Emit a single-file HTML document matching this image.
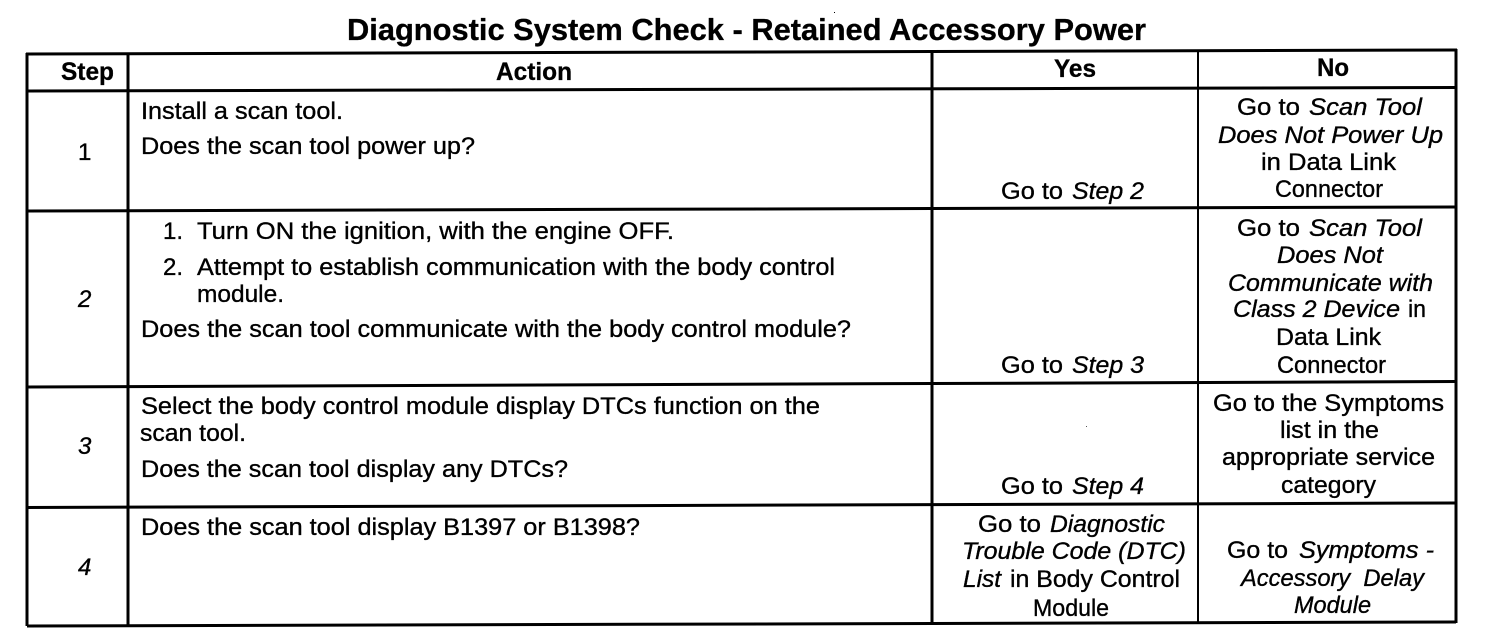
<!DOCTYPE html>
<html><head><meta charset="utf-8"><title>Diagnostic System Check - Retained Accessory Power</title>
<style>
html,body{margin:0;padding:0;background:#fff;width:1504px;height:638px;overflow:hidden}
svg{display:block}
text{font-family:"Liberation Sans",Arial,sans-serif;font-size:24px;fill:#000;stroke:#000;stroke-width:.35px}
.i{font-style:italic}
.b{font-weight:bold;font-size:25px;stroke-width:.3px}
.t{font-weight:bold;font-size:31px;stroke-width:.3px}
</style></head><body>
<svg xmlns="http://www.w3.org/2000/svg" width="1504" height="638" viewBox="0 0 1504 638">
<g stroke="#000" fill="none">
<path stroke-width="3" d="M27 53V626"/>
<path stroke-width="3" d="M128 54V625"/>
<path stroke-width="3" d="M932 52V624"/>
<path stroke-width="2" d="M1198 52V623"/>
<path stroke-width="3" d="M1456 49V623"/>
<path stroke-width="3" d="M26 54L1457 50"/>
<path stroke-width="3" d="M27 91L1456 87.5"/>
<path stroke-width="3" d="M27 211L1456 207"/>
<path stroke-width="3" d="M27 387L1456 381.5"/>
<path stroke-width="3" d="M26 507.5L1456 503"/>
<path stroke-width="3" d="M27 626L1456 622"/>
</g>
<rect x="834" y="12" width="1" height="1" fill="#000"/><rect x="1086" y="426" width="1" height="1" fill="#555"/>

<text class="t" x="347" y="40" textLength="799" lengthAdjust="spacingAndGlyphs">Diagnostic System Check - Retained Accessory Power</text>
<text class="b" x="61" y="80" textLength="53" lengthAdjust="spacingAndGlyphs">Step</text>
<text class="b" x="496" y="80" textLength="76" lengthAdjust="spacingAndGlyphs">Action</text>
<text class="b" x="1054" y="77" textLength="42" lengthAdjust="spacingAndGlyphs">Yes</text>
<text class="b" x="1317" y="76" textLength="32" lengthAdjust="spacingAndGlyphs">No</text>

<text x="78" y="160">1</text>
<text class="i" x="78" y="307">2</text>
<text class="i" x="78" y="454">3</text>
<text class="i" x="78" y="575">4</text>

<text x="141" y="119" textLength="202" lengthAdjust="spacingAndGlyphs">Install a scan tool.</text>
<text x="141" y="154" textLength="334" lengthAdjust="spacingAndGlyphs">Does the scan tool power up?</text>
<text x="163" y="239">1.</text>
<text x="197" y="239" textLength="477" lengthAdjust="spacingAndGlyphs">Turn ON the ignition, with the engine OFF.</text>
<text x="163" y="275">2.</text>
<text x="197" y="275" textLength="638" lengthAdjust="spacingAndGlyphs">Attempt to establish communication with the body control</text>
<text x="197" y="302" textLength="87" lengthAdjust="spacingAndGlyphs">module.</text>
<text x="141" y="337" textLength="710" lengthAdjust="spacingAndGlyphs">Does the scan tool communicate with the body control module?</text>
<text x="141" y="414" textLength="679" lengthAdjust="spacingAndGlyphs">Select the body control module display DTCs function on the</text>
<text x="140" y="441" textLength="106" lengthAdjust="spacingAndGlyphs">scan tool.</text>
<text x="141" y="477" textLength="427" lengthAdjust="spacingAndGlyphs">Does the scan tool display any DTCs?</text>
<text x="141" y="535" textLength="499" lengthAdjust="spacingAndGlyphs">Does the scan tool display B1397 or B1398?</text>

<text x="1001" y="199" textLength="62" lengthAdjust="spacingAndGlyphs">Go to</text>
<text class="i" x="1072" y="199" textLength="72" lengthAdjust="spacingAndGlyphs">Step 2</text>
<text x="1001" y="373" textLength="62" lengthAdjust="spacingAndGlyphs">Go to</text>
<text class="i" x="1072" y="373" textLength="72" lengthAdjust="spacingAndGlyphs">Step 3</text>
<text x="1001" y="494" textLength="62" lengthAdjust="spacingAndGlyphs">Go to</text>
<text class="i" x="1072" y="494" textLength="72" lengthAdjust="spacingAndGlyphs">Step 4</text>

<text x="978" y="532" textLength="63" lengthAdjust="spacingAndGlyphs">Go to</text>
<text class="i" x="1050" y="532" textLength="115" lengthAdjust="spacingAndGlyphs">Diagnostic</text>
<text class="i" x="962" y="559" textLength="224" lengthAdjust="spacingAndGlyphs">Trouble Code (DTC)</text>
<text class="i" x="963" y="587" textLength="38" lengthAdjust="spacingAndGlyphs">List</text>
<text x="1010" y="587" textLength="170" lengthAdjust="spacingAndGlyphs">in Body Control</text>
<text x="1033" y="616" textLength="76" lengthAdjust="spacingAndGlyphs">Module</text>

<text x="1237" y="115" textLength="63" lengthAdjust="spacingAndGlyphs">Go to</text>
<text class="i" x="1309" y="115" textLength="113" lengthAdjust="spacingAndGlyphs">Scan Tool</text>
<text class="i" x="1218" y="143" textLength="225" lengthAdjust="spacingAndGlyphs">Does Not Power Up</text>
<text x="1261" y="170" textLength="135" lengthAdjust="spacingAndGlyphs">in Data Link</text>
<text x="1275" y="197" textLength="108" lengthAdjust="spacingAndGlyphs">Connector</text>

<text x="1237" y="236" textLength="63" lengthAdjust="spacingAndGlyphs">Go to</text>
<text class="i" x="1309" y="236" textLength="113" lengthAdjust="spacingAndGlyphs">Scan Tool</text>
<text class="i" x="1277" y="263" textLength="106" lengthAdjust="spacingAndGlyphs">Does Not</text>
<text class="i" x="1228" y="291" textLength="205" lengthAdjust="spacingAndGlyphs">Communicate with</text>
<text class="i" x="1233" y="317" textLength="167" lengthAdjust="spacingAndGlyphs">Class 2 Device</text>
<text x="1408" y="317" textLength="18" lengthAdjust="spacingAndGlyphs">in</text>
<text x="1276" y="345" textLength="105" lengthAdjust="spacingAndGlyphs">Data Link</text>
<text x="1277" y="373" textLength="109" lengthAdjust="spacingAndGlyphs">Connector</text>

<text x="1213" y="411" textLength="231" lengthAdjust="spacingAndGlyphs">Go to the Symptoms</text>
<text x="1280" y="438" textLength="99" lengthAdjust="spacingAndGlyphs">list in the</text>
<text x="1222" y="465" textLength="213" lengthAdjust="spacingAndGlyphs">appropriate service</text>
<text x="1281" y="493" textLength="95" lengthAdjust="spacingAndGlyphs">category</text>

<text x="1227" y="558" textLength="61" lengthAdjust="spacingAndGlyphs">Go to</text>
<text class="i" x="1299" y="558" textLength="135" lengthAdjust="spacingAndGlyphs">Symptoms -</text>
<text class="i" x="1241" y="586" textLength="183" lengthAdjust="spacingAndGlyphs">Accessory&#160; Delay</text>
<text class="i" x="1294" y="613" textLength="77" lengthAdjust="spacingAndGlyphs">Module</text>
</svg>
</body></html>
